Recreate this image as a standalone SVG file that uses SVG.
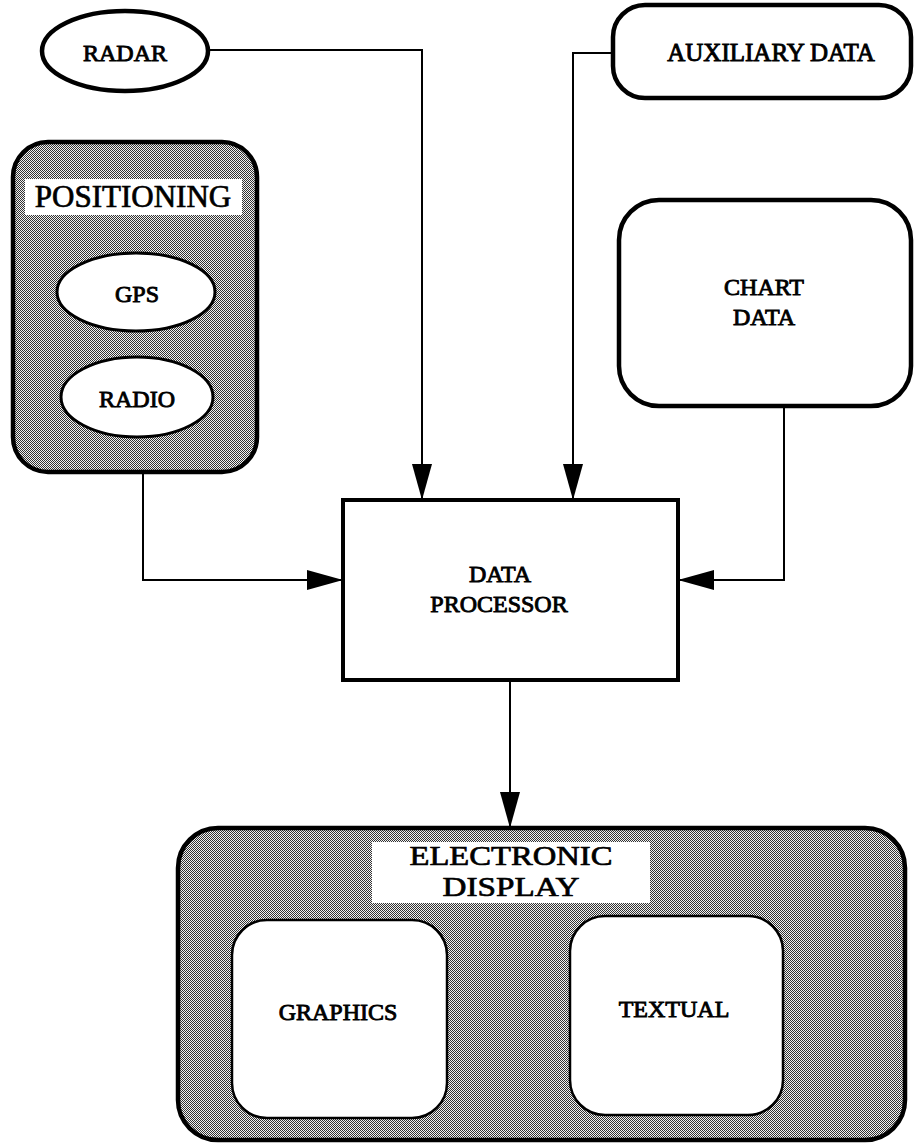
<svg xmlns="http://www.w3.org/2000/svg" width="917" height="1147" viewBox="0 0 917 1147">
<style>
text{font-family:"Liberation Serif","Times New Roman",serif;fill:#000;stroke:#000;stroke-width:0.9;text-anchor:middle;font-size:24px}
.big{font-size:31px;stroke-width:0.7}
.thick{fill:#fff;stroke:#000;stroke-width:4.5}
.mid{fill:#fff;stroke:#000;stroke-width:3}
.shade{fill:url(#dots);stroke:#000;stroke-width:4.5}
.inner{fill:#fff;stroke:#000;stroke-width:2.5}
.conn{fill:none;stroke:#000;stroke-width:2;marker-end:url(#arr)}
</style>
<defs>
<pattern id="dots" width="2" height="2" patternUnits="userSpaceOnUse">
<rect width="2" height="2" fill="#f2f2f2"/>
<rect width="1" height="1" fill="#333"/>
<rect x="1" y="1" width="1" height="1" fill="#333"/>
</pattern>
<marker id="arr" markerWidth="36" markerHeight="20" refX="36" refY="10" orient="auto" markerUnits="userSpaceOnUse">
<path d="M0,0 L36,10 L0,20 Z" fill="#000"/>
</marker>
</defs>
<g id="connectors">
<path class="conn" d="M208,50 H422 V500"/>
<path class="conn" d="M613,53 H573 V500"/>
<path class="conn" d="M143,473 V580 H343"/>
<path class="conn" d="M784,406 V580 H678"/>
<path class="conn" d="M510,680 V828"/>
</g>
<g id="radar">
<ellipse class="thick" cx="125" cy="51" rx="83" ry="40"/>
<text x="125" y="61">RADAR</text>
</g>
<g id="auxiliary">
<rect class="thick" x="613" y="5" width="298" height="93" rx="32"/>
<text x="771" y="61" style="font-size:25px">AUXILIARY DATA</text>
</g>
<g id="positioning">
<rect class="shade" x="13" y="142" width="244" height="330" rx="35"/>
<rect x="25" y="179" width="217" height="36" fill="#fff"/>
<text class="big" x="133" y="207">POSITIONING</text>
</g>
<g id="gps">
<ellipse class="mid" cx="136" cy="292" rx="79" ry="39"/>
<text x="137" y="302">GPS</text>
</g>
<g id="radio">
<ellipse class="mid" cx="137" cy="397" rx="76" ry="40"/>
<text x="137" y="407">RADIO</text>
</g>
<g id="chart">
<rect class="thick" x="619" y="200" width="292" height="206" rx="40"/>
<text x="764" y="295">CHART<tspan x="764" dy="30">DATA</tspan></text>
</g>
<g id="processor">
<rect class="thick" x="343" y="500" width="335" height="180" style="stroke-width:4"/>
<text x="500" y="582">DATA<tspan x="499" dy="30">PROCESSOR</tspan></text>
</g>
<g id="display">
<rect class="shade" x="178" y="828" width="727" height="312" rx="40"/>
<rect x="372" y="842" width="278" height="61" fill="#fff"/>
<text class="big" x="511" y="865" style="font-size:28px" textLength="203" lengthAdjust="spacingAndGlyphs">ELECTRONIC</text>
<text class="big" x="511" y="896" style="font-size:28px" textLength="137" lengthAdjust="spacingAndGlyphs">DISPLAY</text>
</g>
<g id="graphics">
<rect class="inner" x="232" y="920" width="215" height="198" rx="35"/>
<text x="338" y="1020">GRAPHICS</text>
</g>
<g id="textual">
<rect class="inner" x="570" y="916" width="213" height="199" rx="35"/>
<text x="674" y="1017">TEXTUAL</text>
</g>
</svg>
